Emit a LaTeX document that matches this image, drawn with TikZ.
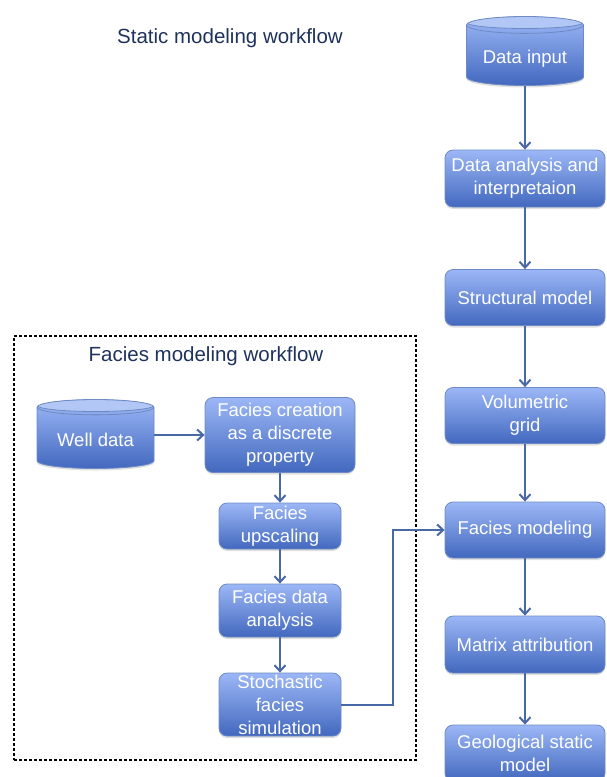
\documentclass[tikz,border=0pt]{standalone}
\usepackage{fontspec}
\setmainfont{Liberation Sans}
\usetikzlibrary{positioning, arrows.meta, shapes.geometric, shadows}

\definecolor{boxtop}{RGB}{156,183,246}
\definecolor{boxbot}{RGB}{66,104,190}
\definecolor{boxline}{RGB}{110,138,196}
\definecolor{capfill}{RGB}{178,199,246}
\definecolor{flowline}{RGB}{72,104,166}
\definecolor{titlecol}{RGB}{30,50,92}

\begin{document}
\begin{tikzpicture}[
            x=1pt, y=-1pt,
            every node/.style={font=\fontsize{18.5}{23}\selectfont},
            procbox/.style={draw=boxline, line width=0.8pt, rounded corners=8pt,
                top color=boxtop, bottom color=boxbot, text=white, align=center,
                inner sep=0pt, drop shadow={opacity=0.25, shadow xshift=0pt, shadow yshift=-2pt}},
            rbox/.style={procbox, minimum width=160pt, minimum height=56pt},
            lbox/.style={procbox, minimum width=122pt},
            dbcyl/.style={cylinder, shape border rotate=90, aspect=0.2, anchor=shape center,
                minimum width=117pt, minimum height=69pt, inner sep=0pt,
                text height=21pt, text depth=4pt,
                draw=boxline, line width=0.8pt, top color=boxtop, bottom color=boxbot,
                text=white, drop shadow={opacity=0.25, shadow xshift=0pt, shadow yshift=-2pt},
                path picture={\draw[draw=boxline, line width=0.8pt, fill=capfill]
                    ([yshift=-6pt]path picture bounding box.north) ellipse [x radius=58.5pt, y radius=6pt];}},
            flow/.style={draw=flowline, line width=2pt, -{Straight Barb[length=6pt, width=11pt]}},
            heading/.style={text=titlecol, font=\fontsize{20.5}{24}\selectfont}
        ]
    \useasboundingbox (0,0) rectangle (606,777);

    % static workflow (right column)
    \node[heading] (stitle) at (230,38) {Static modeling workflow};
    \node[dbcyl] (din) at (525,51) {Data input};
    \node[rbox, minimum height=57pt] (dan) at (525,178.5) {Data analysis and\\interpretaion};
    \node[rbox] (smod) at (525,297.5) {Structural model};
    \node[rbox] (vgrid) at (525,415.5) {Volumetric\\grid};
    \node[rbox] (fmod) at (525,530) {Facies modeling};
    \node[rbox, minimum height=57pt] (matr) at (525,644.5) {Matrix attribution};
    \node[rbox] (geo) at (525,753) {Geological static\\model};

    % facies workflow (dashed frame)
    \node[draw, dashed, dash pattern=on 3pt off 2pt, line width=1.2pt,
          minimum width=402pt, minimum height=424pt] (fframe) at (215,548) {};
    \node[heading] (ftitle) at (206,356) {Facies modeling workflow};
    \node[dbcyl] (well) at (95.5,434) {Well data};
    \node[procbox, minimum width=150pt, minimum height=75pt] (fcre) at (280,435) {Facies creation\\as a discrete\\property};
    \node[lbox, minimum height=46pt] (fups) at (280,526) {Facies\\upscaling};
    \node[lbox, minimum height=53pt] (fdat) at (280,610.5) {Facies data\\analysis};
    \node[lbox, minimum height=63pt] (fsto) at (280,704.5) {Stochastic\\facies\\simulation};

    % connectors
    \draw[flow] (din) -- (dan);
    \draw[flow] (dan) -- (smod);
    \draw[flow] (smod) -- (vgrid);
    \draw[flow] (vgrid) -- (fmod);
    \draw[flow] (fmod) -- (matr);
    \draw[flow] (matr) -- (geo);

    \draw[flow] (well.east |- fcre.west) -- (fcre.west);
    \draw[flow] (fcre) -- (fups);
    \draw[flow] (fups) -- (fdat);
    \draw[flow] (fdat) -- (fsto);
    \draw[flow] (fsto.east) -| ([xshift=-52pt]fmod.west) -- (fmod.west);
\end{tikzpicture}
\end{document}
